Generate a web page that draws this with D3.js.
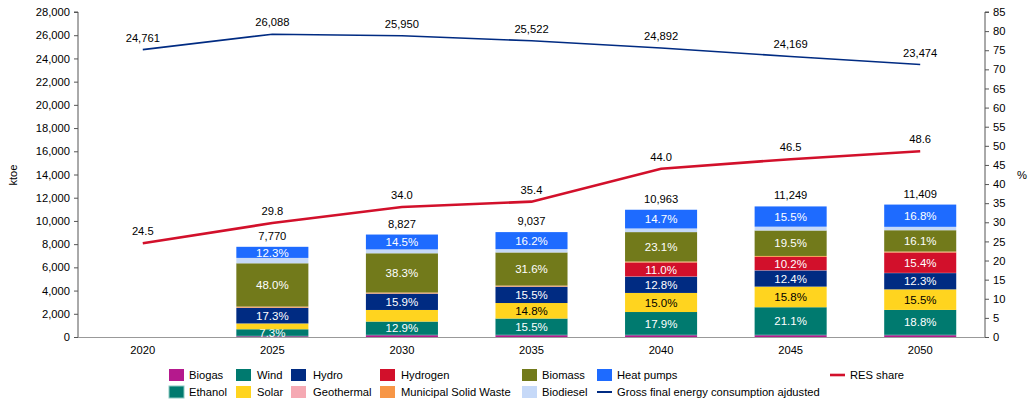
<!DOCTYPE html>
<html><head><meta charset="utf-8">
<script src="https://cdn.jsdelivr.net/npm/d3@7"></script>
<style>
html,body{margin:0;padding:0;background:#fff;}
svg{display:block;font-family:"Liberation Sans",Arial,sans-serif;}
</style></head>
<body><svg id="c" width="1030" height="404"></svg>
<script>
// ---------- DATA ----------
const years = ["2020","2025","2030","2035","2040","2045","2050"];
const seriesNames = ["Biogas","Ethanol","Wind","Solar","Hydro","Geothermal","Hydrogen","Municipal Solid Waste","Biomass","Biodiesel","Heat pumps"];
const biogas     = [0,   60,  150,  150,  150,  150,  150];
const ethanol    = [0,   40,   40,   40,   40,   40,   40];
const wind       = [0,  567, 1139, 1401, 1962, 2374, 2145];
const solar      = [0,  500, 1000, 1337, 1644, 1777, 1768];
const hydro      = [0, 1344, 1403, 1401, 1403, 1395, 1403];
const geothermal = [0,   20,   20,   20,   20,   20,   20];
const hydrogen   = [0,    0,    0,    0, 1206, 1147, 1757];
const msw        = [0,   90,   80,   80,   80,   80,   80];
const biomass    = [0, 3730, 3381, 2856, 2532, 2194, 1837];
const biodiesel  = [0,  463,  334,  288,  314,  328,  292];
const heatPumps  = [0,  956, 1280, 1464, 1612, 1744, 1917];
const grossFinal = [24761, 26088, 25950, 25522, 24892, 24169, 23474];
const resShare   = [24.5, 29.8, 34.0, 35.4, 44.0, 46.5, 48.6];
const leftTicks  = d3.range(0, 28001, 2000);
const rightTicks = d3.range(0, 86, 5);
// which segments carry a percentage label (per year)
const labelMask = {
  "Wind":       [0,1,1,1,1,1,1],
  "Solar":      [0,0,0,1,1,1,1],
  "Hydro":      [0,1,1,1,1,1,1],
  "Hydrogen":   [0,0,0,0,1,1,1],
  "Biomass":    [0,1,1,1,1,1,1],
  "Heat pumps": [0,1,1,1,1,1,1]
};

const seriesValues = [biogas, ethanol, wind, solar, hydro, geothermal, hydrogen, msw, biomass, biodiesel, heatPumps];
const colors = {
  "Biogas":"#B5198D","Ethanol":"#007A6F","Wind":"#007A6F","Solar":"#FFD41F","Hydro":"#002B82",
  "Geothermal":"#F5A9B3","Hydrogen":"#D2102B","Municipal Solid Waste":"#F79646","Biomass":"#727A1B",
  "Biodiesel":"#C6D9F8","Heat pumps":"#1E6BFF"
};
const textColor = {"Solar":"#000"};
const FS = 11.2;

const rows = years.map((y,i)=>{
  const o = {year:y};
  seriesNames.forEach((s,k)=>o[s]=seriesValues[k][i]);
  o.total = d3.sum(seriesValues, a=>a[i]);
  return o;
});

// ---------- LAYOUT ----------
const svg = d3.select("#c");
const L=78, R=985, T=12, B=337;
const x = d3.scaleBand().domain(years).range([L,R]).paddingInner(0.444).paddingOuter(0.222);
const yL = d3.scaleLinear().domain([0,28000]).range([B,T]);
const yR = d3.scaleLinear().domain([0,85]).range([B,T]);

const stack = d3.stack().keys(seriesNames)(rows);

// bars
const g = svg.append("g");
stack.forEach(layer=>{
  const name = layer.key;
  g.append("g").selectAll("rect").data(layer).join("rect")
    .attr("x", d=>x(d.data.year))
    .attr("width", x.bandwidth())
    .attr("y", d=>yL(d[1]))
    .attr("height", d=>Math.max(0, yL(d[0])-yL(d[1])))
    .attr("fill", colors[name]);
  if (labelMask[name]) {
    g.append("g").selectAll("text").data(layer.filter((d,i)=>labelMask[name][i]))
      .join("text")
      .attr("x", d=>x(d.data.year)+x.bandwidth()/2)
      .attr("y", d=>(yL(d[0])+yL(d[1]))/2)
      .attr("dy","0.36em")
      .attr("text-anchor","middle")
      .attr("font-size",FS+0.3)
      .attr("fill", textColor[name]||"#fff")
      .text(d=>(d.data[name]/d.data.total*100).toFixed(1)+"%");
  }
});

// totals
svg.append("g").selectAll("text").data(rows.filter(r=>r.total>0)).join("text")
  .attr("x", d=>x(d.year)+x.bandwidth()/2)
  .attr("y", d=>yL(d.total)-7)
  .attr("text-anchor","middle").attr("font-size",FS).attr("fill","#000")
  .text(d=>d3.format(",")(d.total));

// axes
const axL = svg.append("g").attr("transform",`translate(${L},0)`)
  .call(d3.axisLeft(yL).tickValues(leftTicks).tickFormat(d3.format(",")).tickSize(4).tickPadding(4));
const axR = svg.append("g").attr("transform",`translate(${R},0)`)
  .call(d3.axisRight(yR).tickValues(rightTicks).tickSize(4).tickPadding(4));
[axL,axR].forEach(a=>{
  a.selectAll("path").attr("stroke","#555");
  a.selectAll("line").attr("stroke","#555");
  a.selectAll("text").attr("font-size",FS).attr("fill","#000").attr("font-family","Liberation Sans, Arial, sans-serif");
});
axL.select(".domain").attr("d",`M-4,${T}H0V${B}`);
axR.select(".domain").attr("d",`M4,${T}H0V${B}`);

// x axis
svg.append("line").attr("x1",L).attr("x2",R).attr("y1",B+0.5).attr("y2",B+0.5).attr("stroke","#999").attr("stroke-width",1.2);
svg.append("g").selectAll("text").data(years).join("text")
  .attr("x", d=>x(d)+x.bandwidth()/2).attr("y", 354)
  .attr("text-anchor","middle").attr("font-size",FS).text(d=>d);

// axis titles
svg.append("text").attr("transform","translate(17,175) rotate(-90)").attr("text-anchor","middle").attr("font-size",FS).text("ktoe");
svg.append("text").attr("x",1022).attr("y",179).attr("text-anchor","middle").attr("font-size",FS).text("%");

// lines
const cx = d=>x(d)+x.bandwidth()/2;
const grossPts = years.map((y,i)=>[cx(y), yL(grossFinal[i])]);
const resPts = years.map((y,i)=>[cx(y), yR(resShare[i])]);
svg.append("path").attr("d", d3.line()(grossPts)).attr("fill","none").attr("stroke","#002B82").attr("stroke-width",1.6);
svg.append("path").attr("d", d3.line()(resPts)).attr("fill","none").attr("stroke","#D2102B").attr("stroke-width",2.6);
svg.append("g").selectAll("text").data(years).join("text")
  .attr("x", d=>cx(d)).attr("y",(d,i)=>yL(grossFinal[i])-8)
  .attr("text-anchor","middle").attr("font-size",FS).text((d,i)=>d3.format(",")(grossFinal[i]));
svg.append("g").selectAll("text").data(years).join("text")
  .attr("x", d=>cx(d)).attr("y",(d,i)=>yR(resShare[i])-8)
  .attr("text-anchor","middle").attr("font-size",FS).text((d,i)=>resShare[i].toFixed(1));

// legend
const leg = svg.append("g").attr("font-size",FS);
const legendItems = [
  {n:"Biogas", sx:169, tx:189, r:0},
  {n:"Wind", sx:236, tx:257, r:0},
  {n:"Hydro", sx:291, tx:313, r:0},
  {n:"Hydrogen", sx:380, tx:401, r:0},
  {n:"Biomass", sx:522, tx:542, r:0},
  {n:"Heat pumps", sx:597, tx:617, r:0},
  {n:"Ethanol", sx:169, tx:189, r:1},
  {n:"Solar", sx:236, tx:257, r:1},
  {n:"Geothermal", sx:291, tx:313, r:1},
  {n:"Municipal Solid Waste", sx:380, tx:401, r:1},
  {n:"Biodiesel", sx:522, tx:542, r:1}
];
const rowY = [375, 392];
legendItems.forEach(it=>{
  const yy = rowY[it.r];
  leg.append("rect").attr("x",it.sx).attr("y",yy-6).attr("width",15).attr("height",12)
    .attr("fill",colors[it.n])
    .attr("stroke", it.n==="Ethanol" ? "#8CC9C2" : "none").attr("stroke-width",1);
  leg.append("text").attr("x",it.tx).attr("y",yy).attr("dy","0.36em").text(it.n);
});
leg.append("line").attr("x1",597).attr("x2",612).attr("y1",392).attr("y2",392).attr("stroke","#002B82").attr("stroke-width",2);
leg.append("text").attr("x",617).attr("y",392).attr("dy","0.36em").text("Gross final energy consumption ajdusted");
leg.append("line").attr("x1",830).attr("x2",845).attr("y1",375).attr("y2",375).attr("stroke","#D2102B").attr("stroke-width",2.6);
leg.append("text").attr("x",850).attr("y",375).attr("dy","0.36em").text("RES share");
</script>
</body></html>
